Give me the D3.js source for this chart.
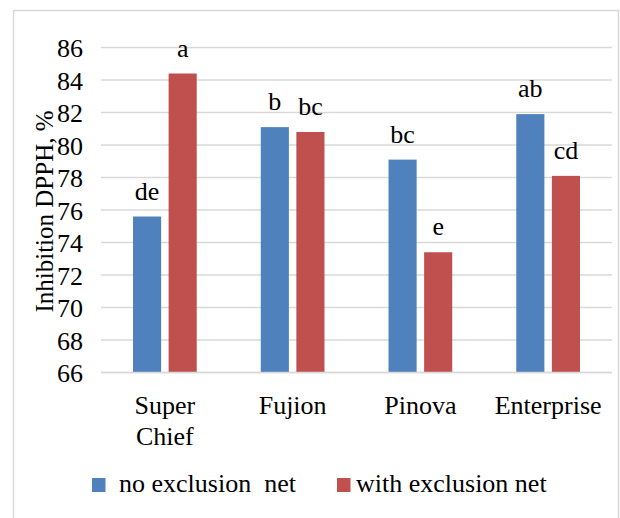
<!DOCTYPE html>
<html>
<head>
<meta charset="utf-8">
<script src="https://cdn.jsdelivr.net/npm/d3@7"></script>
<style>
  html, body { margin: 0; padding: 0; background: #fff; }
</style>
</head>
<body>
<svg id="chart" width="620" height="518" font-family="Liberation Serif"></svg>
<script>
const categories = ["Super Chief", "Fujion", "Pinova", "Enterprise"];
const seriesNames = ["no exclusion  net", "with exclusion net"];
const noNet = [75.6, 81.1, 79.1, 81.9];
const withNet = [84.4, 80.8, 73.4, 78.1];
const noNetLetters = ["de", "b", "bc", "ab"];
const withNetLetters = ["a", "bc", "e", "cd"];
const yTicks = [66, 68, 70, 72, 74, 76, 78, 80, 82, 84, 86];
const colors = ["#4f81bd", "#c0504d"];
const FONT = "Liberation Serif";

const svg = d3.select("#chart");

// outer border
svg.append("rect").attr("x", 13.5).attr("y", 10.5).attr("width", 605).attr("height", 520)
  .attr("fill", "none").attr("stroke", "#d9d9d9").attr("stroke-width", 1.5);

const x0 = d3.scaleBand().domain(categories).range([101, 612]).padding(0);
const x1 = d3.scaleBand().domain([0, 1]).range([0, x0.bandwidth()])
  .paddingInner(0.21).paddingOuter(0.9);
const y = d3.scaleLinear().domain([66, 86]).range([372.5, 47.5]);

// gridlines
svg.append("g").selectAll("line").data(yTicks).join("line")
  .attr("x1", 101).attr("x2", 612)
  .attr("y1", d => y(d)).attr("y2", d => y(d))
  .attr("stroke", "#d9d9d9").attr("stroke-width", 1.5);

// y axis labels
const yAxis = d3.axisLeft(y).tickValues(yTicks).tickSize(0).tickPadding(0);
const gy = svg.append("g").attr("transform", "translate(83,0)").call(yAxis);
gy.attr("font-family", FONT).attr("font-size", 26);
gy.select(".domain").remove();
gy.selectAll("text").attr("font-size", 26).attr("font-family", FONT).attr("fill", "#000").attr("dy", "0.35em");

// y title
svg.append("text")
  .attr("transform", `translate(53,${211.5}) rotate(-90)`)
  .attr("text-anchor", "middle").attr("font-size", 25).attr("font-family", FONT)
  .text("Inhibition DPPH, %");

// bars
const data = categories.map((c, i) => ({
  cat: c,
  vals: [
    {s: 0, v: noNet[i], lab: noNetLetters[i]},
    {s: 1, v: withNet[i], lab: withNetLetters[i]}
  ]
}));

const groups = svg.append("g").selectAll("g").data(data).join("g")
  .attr("transform", d => `translate(${x0(d.cat)},0)`);

groups.selectAll("rect").data(d => d.vals).join("rect")
  .attr("x", d => x1(d.s)).attr("width", x1.bandwidth())
  .attr("y", d => y(d.v)).attr("height", d => y(66) - y(d.v))
  .attr("fill", d => colors[d.s]);

groups.selectAll("text.lab").data(d => d.vals).join("text")
  .attr("class", "lab")
  .attr("x", d => x1(d.s) + x1.bandwidth() / 2)
  .attr("y", d => y(d.v) - 17)
  .attr("text-anchor", "middle").attr("font-size", 26).attr("font-family", FONT)
  .text(d => d.lab);

// x axis line
svg.append("line").attr("x1", 101).attr("x2", 612)
  .attr("y1", y(66)).attr("y2", y(66))
  .attr("stroke", "#d9d9d9").attr("stroke-width", 1.5);

// x axis labels
const xAxis = d3.axisBottom(x0).tickSize(0).tickPadding(0);
const gx = svg.append("g").call(xAxis);
gx.attr("font-family", FONT).attr("font-size", 26);
gx.select(".domain").remove();
gx.selectAll(".tick text").each(function(d) {
  const t = d3.select(this);
  t.text(null).attr("font-size", 26).attr("font-family", FONT).attr("fill", "#000").attr("y", 0).attr("dy", null);
  d.split(" ").forEach((w, i) => {
    t.append("tspan").attr("x", 0).attr("y", 414 + i * 31).text(w);
  });
});

// legend
const legendX = [92, 337];
const leg = svg.append("g").selectAll("g").data(seriesNames).join("g")
  .attr("transform", (d, i) => `translate(${legendX[i]},478)`);
leg.append("rect").attr("width", 13.5).attr("height", 14).attr("fill", (d, i) => colors[i]);
leg.append("text").attr("x", (d, i) => i === 0 ? 27 : 19).attr("y", 14)
  .attr("font-size", 26).attr("font-family", FONT).style("white-space", "pre").text(d => d);
</script>
</body>
</html>
